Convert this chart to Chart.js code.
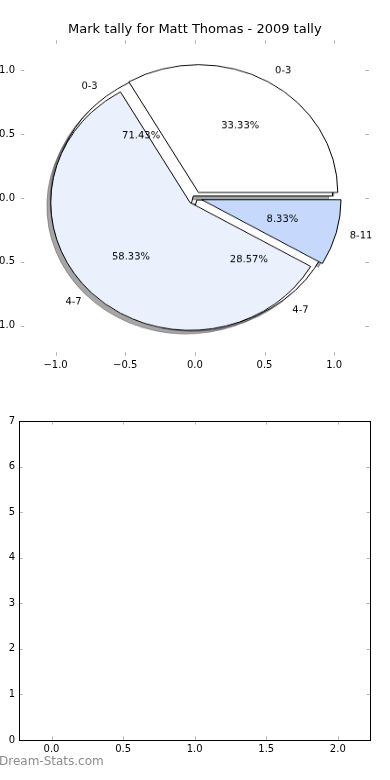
<!DOCTYPE html>
<html>
<head>
<meta charset="utf-8">
<script src="https://cdn.jsdelivr.net/npm/chart.js@4.4.1/dist/chart.umd.min.js"></script>
<style>
  html, body { margin: 0; padding: 0; background: #fff; }
  #wrap { position: relative; width: 390px; height: 780px; overflow: hidden; }
  #wrap canvas { position: absolute; }
  #axTop { left: -30px; top: 0; }
  #pieB, #pieA { left: -5px; top: -2px; transform: scaleY(0.9174); transform-origin: 50% 50%; }
  #axBottom { left: 0; top: 400px; }
</style>
</head>
<body>
<div id="wrap">
  <canvas id="axTop" width="450" height="390"></canvas>
  <canvas id="pieB" width="400" height="400"></canvas>
  <canvas id="pieA" width="400" height="400"></canvas>
  <canvas id="axBottom" width="390" height="380"></canvas>
</div>
<script>
const chartTitle = 'Mark tally for Matt Thomas - 2009 tally';

// the two pies share one axes, second one is drawn underneath
const marksA = ['0-3', '4-7', '8-11'];
const countsA = [4, 7, 1];
const marksB = ['0-3', '4-7'];
const countsB = [5, 2];

const explodeA = [0.05, 0.05, 0.05];
const explodeB = [0.02, 0.02];
const coloursA = ['#ffffff', '#ebf1fc', '#c6d9fd'];
const coloursB = ['#ffffff', '#ffffff'];

// tick labels
const pieTicks = [-1.0, -0.5, 0.0, 0.5, 1.0];
const emptyXTicks = [0.0, 0.5, 1.0, 1.5, 2.0];
const emptyYTicks = [0, 1, 2, 3, 4, 5, 6, 7];

const FONT = "'DejaVu Sans', sans-serif";
const R = 139.3;          // pie radius in px (x direction)
const SQUASH = 0.9174;    // y/x pixel ratio of the top axes
Chart.defaults.font.family = FONT;

let pieAChart = null;
let pieBChart = null;

const fmt1 = v => Number(v).toFixed(1).replace('-', '\u2212');

// inward tick marks on all four sides, plus optional frame
const ticksIn = {
  id: 'ticksIn',
  afterDraw(chart, args, opts) {
    const { ctx, chartArea: a, scales: { x, y } } = chart;
    const L = 3.5;
    ctx.save();
    ctx.strokeStyle = opts.color;
    ctx.lineWidth = 1;
    ctx.beginPath();
    x.ticks.forEach(t => {
      const p = Math.round(x.getPixelForValue(t.value)) + 0.5;
      ctx.moveTo(p, a.top); ctx.lineTo(p, a.top + L);
      ctx.moveTo(p, a.bottom); ctx.lineTo(p, a.bottom - L);
    });
    y.ticks.forEach(t => {
      const p = Math.round(y.getPixelForValue(t.value)) + 0.5;
      ctx.moveTo(a.left, p); ctx.lineTo(a.left + L, p);
      ctx.moveTo(a.right, p); ctx.lineTo(a.right - L, p);
    });
    ctx.stroke();
    if (opts.frame) {
      ctx.strokeStyle = '#000';
      ctx.strokeRect(Math.round(a.left) + 0.5, Math.round(a.top) + 0.5,
        Math.round(a.right - a.left), Math.round(a.bottom - a.top));
    }
    if (opts.watermark) {
      ctx.fillStyle = '#8c8c8c';
      ctx.font = '12px ' + FONT;
      ctx.textBaseline = 'middle';
      ctx.textAlign = 'left';
      ctx.fillText(opts.watermark, -1, 362);
    }
    ctx.restore();
  }
};

function axis(min, max, ticks, fmt, size, dim, pad) {
  return {
    type: 'linear', min: min, max: max,
    grid: { display: false, drawTicks: false },
    border: { display: false },
    afterBuildTicks: s => { s.ticks = ticks.map(v => ({ value: v })); },
    afterFit: s => { s[dim] = size; },
    ticks: { color: '#000', padding: pad, maxRotation: 0, autoSkip: false,
             font: { family: FONT, size: 10 }, callback: fmt }
  };
}

// matplotlib style explode: shift each wedge out along its middle angle
const explode = {
  id: 'explode',
  beforeDatasetDraw(chart, args) {
    const ctx = chart.ctx;
    const ds = chart.data.datasets[args.index];
    args.meta.data.forEach((arc, i) => {
      const mid = (arc.startAngle + arc.endAngle) / 2;
      const d = ds.explode[i] * arc.outerRadius;
      ctx.save();
      ctx.translate(Math.cos(mid) * d, Math.sin(mid) * d);
      arc.draw(ctx);
      ctx.restore();
    });
    return false;
  }
};

// shadows of both pies sit under every wedge
const shadows = {
  id: 'shadows',
  beforeDatasetsDraw(chart) {
    const ctx = chart.ctx;
    const sx = -3.9, sy = 3.9;
    ctx.save();
    ctx.fillStyle = 'rgba(77,77,77,0.5)';
    ctx.strokeStyle = 'rgba(77,77,77,0.5)';
    ctx.lineWidth = 1;
    [chart, pieAChart].forEach(c => {
      if (!c) return;
      const ds = c.data.datasets[0];
      c.getDatasetMeta(0).data.forEach((arc, i) => {
        const mid = (arc.startAngle + arc.endAngle) / 2;
        const d = ds.explode[i] * arc.outerRadius;
        const cx = arc.x + Math.cos(mid) * d + sx;
        const cy = arc.y + Math.sin(mid) * d + sy;
        ctx.beginPath();
        ctx.moveTo(cx, cy);
        ctx.arc(cx, cy, arc.outerRadius, arc.startAngle, arc.endAngle);
        ctx.closePath();
        ctx.fill();
        ctx.stroke();
      });
    });
    ctx.restore();
  }
};

function putText(ctx, text, x, y, align) {
  ctx.save();
  ctx.translate(x, y);
  ctx.scale(1, 1 / SQUASH);   // undo the css squash of the pie canvas
  ctx.textAlign = align;
  ctx.fillText(text, 0, 0);
  ctx.restore();
}

const pieLabels = {
  id: 'pieLabels',
  afterDraw(chart) {
    const ctx = chart.ctx;
    ctx.save();
    ctx.fillStyle = '#000';
    ctx.font = '10px ' + FONT;
    ctx.textBaseline = 'middle';
    [pieBChart, chart].forEach(c => {
      const ds = c.data.datasets[0];
      const total = ds.data.reduce((s, v) => s + v, 0);
      c.getDatasetMeta(0).data.forEach((arc, i) => {
        const mid = (arc.startAngle + arc.endAngle) / 2;
        const r = arc.outerRadius;
        const cos = Math.cos(mid), sin = Math.sin(mid);
        const cx = arc.x + cos * ds.explode[i] * r;
        const cy = arc.y + sin * ds.explode[i] * r;
        putText(ctx, (ds.data[i] / total * 100).toFixed(2) + '%', cx + 0.6 * r * cos, cy + 0.6 * r * sin, 'center');
        const lx = cx + 1.1 * r * cos;
        putText(ctx, c.data.labels[i], lx, cy + 1.1 * r * sin, lx > arc.x ? 'left' : 'right');
      });
    });
    ctx.restore();
  }
};

// matplotlib runs counter-clockwise from 3 o'clock, chart.js clockwise,
// so the slices go in reversed and start at 3 o'clock
function pieConfig(labels, counts, colours, expl, plugins) {
  return {
    type: 'pie',
    data: {
      labels: labels.slice().reverse(),
      datasets: [{
        data: counts.slice().reverse(),
        backgroundColor: colours.slice().reverse(),
        explode: expl.slice().reverse(),
        borderColor: '#000',
        borderWidth: 1,
        borderJoinStyle: 'miter'
      }]
    },
    options: {
      responsive: false, animation: false, events: [],
      rotation: 90,
      radius: R,
      layout: { padding: 0 },
      plugins: { legend: { display: false }, tooltip: { enabled: false } }
    },
    plugins: plugins
  };
}

new Chart(document.getElementById('axTop'), {
  type: 'scatter',
  data: { datasets: [{ data: [] }] },
  options: {
    responsive: false, animation: false, events: [],
    layout: { padding: { left: 0, right: 51, top: 0, bottom: 0 } },
    plugins: {
      legend: { display: false }, tooltip: { enabled: false },
      title: { display: true, fullSize: false, text: chartTitle, color: '#000',
               font: { family: FONT, size: 13, weight: 'normal' },
               padding: { top: 21.5, bottom: 3.2 } },
      ticksIn: { color: '#b4b4b4', frame: false }
    },
    scales: {
      x: axis(-1.25, 1.25, pieTicks, fmt1, 34.3, 'height', 4),
      y: axis(-1.234, 1.234, pieTicks, fmt1, 50.7, 'width', 5.7)
    }
  },
  plugins: [ticksIn]
});

pieBChart = new Chart(document.getElementById('pieB'),
  pieConfig(marksB, countsB, coloursB, explodeB, [shadows, explode]));
pieAChart = new Chart(document.getElementById('pieA'),
  pieConfig(marksA, countsA, coloursA, explodeA, [explode, pieLabels]));
pieBChart.draw();   // again, now with the first pie's shadows

new Chart(document.getElementById('axBottom'), {
  type: 'scatter',
  data: { datasets: [{ data: [] }] },
  options: {
    responsive: false, animation: false, events: [],
    layout: { padding: { left: 0, right: 20, top: 21, bottom: 0 } },
    plugins: {
      legend: { display: false }, tooltip: { enabled: false },
      ticksIn: { color: '#b4b4b4', frame: true, watermark: 'Dream-Stats.com' }
    },
    scales: {
      x: axis(-0.225, 2.225, emptyXTicks, fmt1, 40, 'height', 3),
      y: axis(0, 7, emptyYTicks, v => String(v), 19.3, 'width', 4.3)
    }
  },
  plugins: [ticksIn]
});
</script>
</body>
</html>
